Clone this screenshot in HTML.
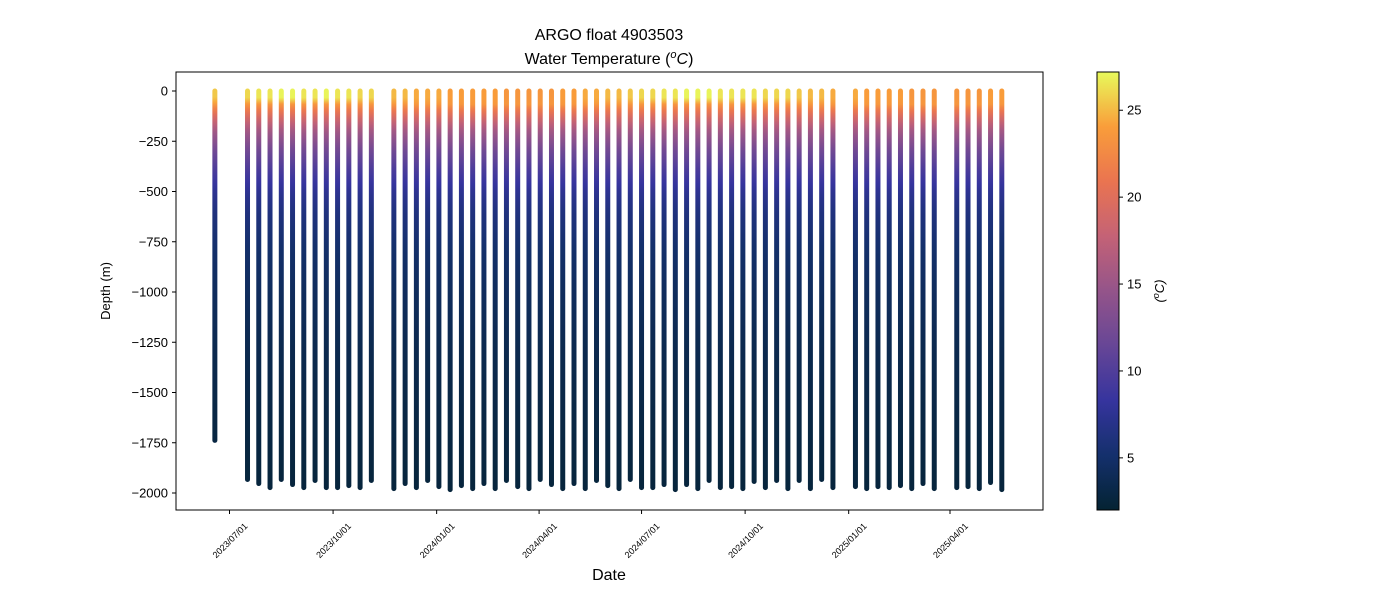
<!DOCTYPE html>
<html><head><meta charset="utf-8"><style>
html,body{margin:0;padding:0;background:#fff;}
svg{display:block;font-family:"Liberation Sans","DejaVu Sans",sans-serif;}
</style></head><body>
<svg id="chart" width="1400" height="600" viewBox="0 0 1400 600" xmlns="http://www.w3.org/2000/svg">
<defs id="defs"></defs>
<text x="609" y="40" text-anchor="middle" font-size="16" fill="#000">ARGO float 4903503</text>
<text x="609" y="64" text-anchor="middle" font-size="16" fill="#000">Water Temperature (<tspan font-style="italic" dy="-6" font-size="11">o</tspan><tspan font-style="italic" dy="6">C</tspan>)</text>
<g id="plot"></g>
<rect x="176" y="72" width="867" height="438" fill="none" stroke="#000" stroke-width="1"/>
<g id="yaxis"></g>
<g id="xaxis"></g>
<text transform="translate(110,291) rotate(-90)" text-anchor="middle" font-size="13">Depth (m)</text>
<text x="609" y="580" text-anchor="middle" font-size="16">Date</text>
<g id="cbar"></g>
<text transform="translate(1164,291) rotate(-90)" text-anchor="middle" font-size="13" font-style="italic">(<tspan dy="-5" font-size="9">o</tspan><tspan dy="5">C</tspan>)</text>
</svg>
<script>
const profileDates = ["2023-06-18",
"2023-07-17","2023-07-27","2023-08-06","2023-08-16","2023-08-26","2023-09-05","2023-09-15","2023-09-25","2023-10-05","2023-10-15","2023-10-25","2023-11-04",
"2023-11-24","2023-12-04","2023-12-14","2023-12-24","2024-01-03","2024-01-13","2024-01-23","2024-02-02","2024-02-12","2024-02-22","2024-03-03","2024-03-13","2024-03-23","2024-04-02","2024-04-12","2024-04-22","2024-05-02","2024-05-12","2024-05-22","2024-06-01","2024-06-11","2024-06-21","2024-07-01","2024-07-11","2024-07-21","2024-07-31","2024-08-10","2024-08-20","2024-08-30","2024-09-09","2024-09-19","2024-09-29","2024-10-09","2024-10-19","2024-10-29","2024-11-08","2024-11-18","2024-11-28","2024-12-08","2024-12-18",
"2025-01-07","2025-01-17","2025-01-27","2025-02-06","2025-02-16","2025-02-26","2025-03-08","2025-03-18",
"2025-04-07","2025-04-17","2025-04-27","2025-05-07","2025-05-17"];
const maxDepths = [-1738,
-1933,-1953,-1973,-1933,-1958,-1973,-1938,-1973,-1973,-1963,-1973,-1938,
-1978,-1953,-1973,-1938,-1968,-1983,-1963,-1978,-1953,-1978,-1938,-1968,-1978,-1933,-1958,-1978,-1953,-1978,-1938,-1963,-1978,-1933,-1973,-1973,-1958,-1983,-1958,-1978,-1938,-1973,-1968,-1978,-1943,-1973,-1938,-1978,-1938,-1978,-1933,-1973,
-1968,-1978,-1968,-1973,-1963,-1978,-1953,-1978,
-1973,-1968,-1978,-1948,-1983];
const surfaceTemps = [25.5,
26,26.5,26.5,27,27,26.5,26.5,27,26.5,26.5,26,26,
25,25,24.5,24.5,24.5,24,24,24,24,24,23.5,23.5,23.5,23.5,23.5,24,24,24.5,24.5,25,25,25.5,26,26,26.5,26.5,27,27,27,26.5,26.5,26.5,26.5,26,26,26,25.5,25,25,24.5,
24.5,24,24,24,24,23.5,23.5,23.5,
23.5,23.5,23.5,24,24];
const baseDepths = [0,30,60,100,150,200,300,400,500,600,800,1000,1300,1600,2000];
const baseTemps  = [30,28,24,21,18,15.5,12,9.5,7.5,6.3,5,4.3,3.5,3,2.5];
const yTicks = [0,-250,-500,-750,-1000,-1250,-1500,-1750,-2000];
const yTickLabels = ["0","\u2212250","\u2212500","\u2212750","\u22121000","\u22121250","\u22121500","\u22121750","\u22122000"];
const xTicks = ["2023-07-01","2023-10-01","2024-01-01","2024-04-01","2024-07-01","2024-10-01","2025-01-01","2025-04-01"];
const xTickLabels = ["2023/07/01","2023/10/01","2024/01/01","2024/04/01","2024/07/01","2024/10/01","2025/01/01","2025/04/01"];
const cbTicks = [5,10,15,20,25];

const NS="http://www.w3.org/2000/svg";
function mk(tag,attrs,parent){const e=document.createElementNS(NS,tag);for(const k in attrs)e.setAttribute(k,attrs[k]);parent.appendChild(e);return e;}
const day=86400000, t0=Date.parse("2023-07-01");
function xScale(d){return 229.5+(Date.parse(d)-t0)/day*1.1258;}
function yScale(v){return 91-v*0.201;}
const tMin=2.0,tMax=27.2;
function cScaleY(t){return 510-(t-tMin)/(tMax-tMin)*438;}
const cmapStops=[[0,[4,35,51]],[0.125,[20,48,108]],[0.25,[54,52,158]],[0.375,[103,70,150]],[0.5,[148,84,138]],[0.625,[196,98,118]],[0.75,[234,116,80]],[0.875,[249,157,58]],[1,[232,250,91]]];
function cmap(t){let f=Math.max(0,Math.min(1,(t-tMin)/(tMax-tMin)));for(let i=1;i<cmapStops.length;i++){if(f<=cmapStops[i][0]){const a=cmapStops[i-1],b=cmapStops[i];const u=(f-a[0])/(b[0]-a[0]);const c=a[1].map((v,j)=>Math.round(v+(b[1][j]-v)*u));return `rgb(${c[0]},${c[1]},${c[2]})`;}}return "rgb(232,250,91)";}
function baseT(d){for(let i=1;i<baseDepths.length;i++){if(d<=baseDepths[i]){const u=(d-baseDepths[i-1])/(baseDepths[i]-baseDepths[i-1]);return baseTemps[i-1]+(baseTemps[i]-baseTemps[i-1])*u;}}return baseTemps[baseTemps.length-1];}

const defs=document.getElementById('defs'), plot=document.getElementById('plot');
profileDates.forEach((d,i)=>{
  const x=xScale(d), y0=yScale(0), y1=yScale(maxDepths[i]);
  const g=mk('linearGradient',{id:'pg'+i,gradientUnits:'userSpaceOnUse',x1:0,y1:y0,x2:0,y2:y1},defs);
  const dmax=-maxDepths[i];
  for(let k=0;k<=60;k++){const dd=dmax*k/60;const t=Math.min(surfaceTemps[i],baseT(dd));mk('stop',{offset:(k/60).toFixed(4),'stop-color':cmap(t)},g);}
  const ln=mk('line',{x1:x,y1:y0,x2:x,y2:y1,stroke:`url(#pg${i})`,'stroke-width':5,'stroke-linecap':'round'},plot);
  
  
});
const ya=document.getElementById('yaxis');
yTicks.forEach((v,i)=>{const y=yScale(v);
  const t=mk('line',{x1:172,y1:y,x2:176,y2:y,stroke:'#000'},ya);
  
  
  const l=mk('text',{x:168,y:y+4.5,'text-anchor':'end','font-size':13},ya);l.textContent=yTickLabels[i];
  
  
});
const xa=document.getElementById('xaxis');
xTicks.forEach((d,i)=>{const x=xScale(d);
  const t=mk('line',{x1:x,y1:510,x2:x,y2:514,stroke:'#000'},xa);
  
  
  const l=mk('text',{transform:`translate(${x+1},${541}) rotate(-45)`,'text-anchor':'middle','font-size':9,'dominant-baseline':'middle'},xa);l.textContent=xTickLabels[i];
  
  
});
const cb=document.getElementById('cbar');
const cg=mk('linearGradient',{id:'cbg',x1:0,y1:1,x2:0,y2:0},defs);
for(let k=0;k<=40;k++){mk('stop',{offset:k/40,'stop-color':cmap(tMin+(tMax-tMin)*k/40)},cg);}
const cr=mk('rect',{x:1097,y:72,width:22,height:438,fill:'url(#cbg)',stroke:'#000','stroke-width':1},cb);


cbTicks.forEach(v=>{const y=cScaleY(v);
  const t=mk('line',{x1:1119,y1:y,x2:1123,y2:y,stroke:'#000'},cb);
  
  
  const l=mk('text',{x:1127,y:y+4.5,'font-size':13},cb);l.textContent=String(v);
  
  
});
</script>
</body></html>
